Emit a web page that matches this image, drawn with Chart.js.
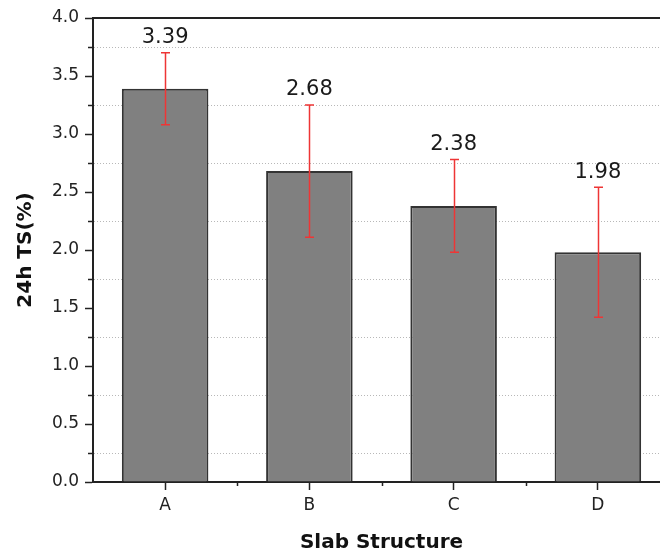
<!DOCTYPE html>
<html>
<head>
<meta charset="utf-8">
<script src="https://cdn.jsdelivr.net/npm/chart.js@4/dist/chart.umd.min.js"></script>
<style>
html,body{margin:0;padding:0;background:#fff;overflow:hidden;width:660px;height:555px;}
#wrap{width:680px;height:555px;position:relative;}
</style>
</head>
<body>
<div id="wrap"><canvas id="c" width="680" height="555"></canvas></div>
<script>
const categories = ['A', 'B', 'C', 'D'];
const values = [3.39, 2.68, 2.38, 1.98];
const errors = [0.31, 0.57, 0.40, 0.56];
const yMin = 0, yMax = 4, yStep = 0.25;
const xTitle = 'Slab Structure';
const yTitle = '24h TS(%)';

const FONT = "'DejaVu Sans', 'Liberation Sans', Arial, sans-serif";
const AXIS = '#222222';

const isMajor = v => Math.abs(v * 2 - Math.round(v * 2)) < 1e-6;

const extras = {
  id: 'extras',
  afterDatasetsDraw(chart) {
    const ctx = chart.ctx;
    const y = chart.scales.y, x = chart.scales.x;
    const area = chart.chartArea;
    ctx.save();
    // minor y ticks
    ctx.strokeStyle = AXIS; ctx.lineWidth = 1.5;
    for (let v = yMin; v <= yMax + 1e-9; v += yStep) {
      if (isMajor(v)) continue;
      const py = Math.round(y.getPixelForValue(v)) + 0.5;
      ctx.beginPath(); ctx.moveTo(area.left - 5, py); ctx.lineTo(area.left, py); ctx.stroke();
    }
    // minor x ticks between categories
    for (let i = 0; i < categories.length - 1; i++) {
      const px = Math.round((x.getPixelForValue(i) + x.getPixelForValue(i + 1)) / 2) + 0.5;
      ctx.beginPath(); ctx.moveTo(px, area.bottom); ctx.lineTo(px, area.bottom + 4); ctx.stroke();
    }
    // top border
    ctx.strokeStyle = AXIS; ctx.lineWidth = 2;
    ctx.beginPath(); ctx.moveTo(area.left - 1, area.top); ctx.lineTo(area.right + 20, area.top); ctx.stroke();
    // error bars
    ctx.strokeStyle = '#ee3535'; ctx.lineWidth = 1.5;
    const meta = chart.getDatasetMeta(0);
    meta.data.forEach((bar, i) => {
      const cx = Math.round(bar.x) + 0.5;
      const top = y.getPixelForValue(values[i] + errors[i]);
      const bot = y.getPixelForValue(values[i] - errors[i]);
      ctx.beginPath();
      ctx.moveTo(cx, top); ctx.lineTo(cx, bot);
      ctx.moveTo(cx - 4.5, top); ctx.lineTo(cx + 4.5, top);
      ctx.moveTo(cx - 4.5, bot); ctx.lineTo(cx + 4.5, bot);
      ctx.stroke();
      // value label
      ctx.fillStyle = '#1a1a1a';
      ctx.font = '21px ' + FONT;
      ctx.textAlign = 'center';
      ctx.textBaseline = 'middle';
      ctx.fillText(values[i].toFixed(2), bar.x, top - 15);
    });
    ctx.restore();
  }
};

new Chart(document.getElementById('c'), {
  type: 'bar',
  data: {
    labels: categories,
    datasets: [{
      data: values,
      backgroundColor: '#808080',
      borderColor: '#333333',
      borderWidth: 2,
      barPercentage: 0.6,
      categoryPercentage: 1.0
    }]
  },
  options: {
    responsive: false,
    animation: false,
    events: [],
    layout: { padding: { left: 0, top: 18, right: 10, bottom: 0 } },
    plugins: { legend: { display: false }, tooltip: { enabled: false } },
    scales: {
      x: {
        afterFit(s) { s.height = 73; },
        border: { display: true, color: AXIS, width: 2 },
        grid: { display: true, drawOnChartArea: false, drawTicks: true, tickLength: 8, tickColor: AXIS, tickWidth: 1.5, offset: false },
        ticks: { color: '#222', font: { family: FONT, size: 17 }, padding: 5 },
        title: { display: true, text: xTitle, color: '#111', font: { family: FONT, size: 20, weight: 'bold' }, padding: { top: 6, bottom: 0 } }
      },
      y: {
        min: yMin, max: yMax,
        afterFit(s) { s.width = 93; },
        border: { display: true, color: AXIS, width: 2, dash: [1, 2] },
        grid: {
          drawOnChartArea: true,
          color: c => isMajor(c.tick.value) ? 'rgba(0,0,0,0)' : '#b8b8b8',
          lineWidth: 1,
          drawTicks: true,
          tickLength: 8,
          tickColor: c => isMajor(c.tick.value) ? AXIS : 'rgba(0,0,0,0)',
          tickWidth: 1.5,
          tickBorderDash: []
        },
        ticks: {
          stepSize: yStep,
          autoSkip: false,
          color: '#222',
          font: { family: FONT, size: 17 },
          padding: 6,
          callback: v => isMajor(v) ? Number(v).toFixed(1) : ''
        },
        title: { display: true, text: yTitle, color: '#111', font: { family: FONT, size: 20, weight: 'bold' }, padding: { top: 14, bottom: 0 } }
      }
    }
  },
  plugins: [extras]
});
</script>
</body>
</html>
